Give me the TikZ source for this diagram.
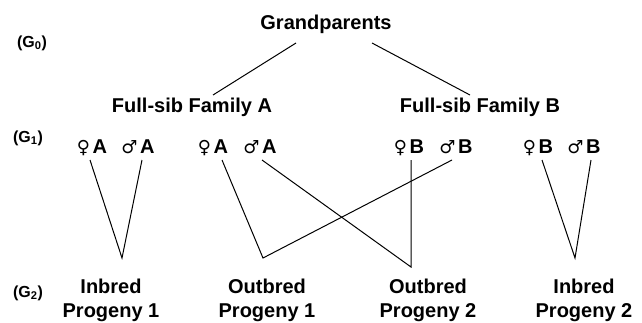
\documentclass[tikz,border=0pt]{standalone}
\usepackage{fontspec}
\setmainfont{Liberation Sans}
\newfontfamily\symfont{DejaVu Sans}
\newcommand{\fem}{{\symfont\fontsize{18}{20}\selectfont ♀}\hspace{2.5pt}}
\newcommand{\mal}{{\symfont\fontsize{18}{20}\selectfont ♂}\hspace{2.5pt}}
\begin{document}
\begin{tikzpicture}[x=1pt,y=-1pt,
  big/.style={font=\fontsize{20}{24}\selectfont\bfseries, inner sep=0pt, anchor=base},
  par/.style={font=\fontsize{20}{24}\selectfont\bfseries, inner sep=0pt, anchor=base},
  gen/.style={font=\fontsize{16}{18}\selectfont\bfseries, inner sep=0pt, anchor=base},
  prog/.style={font=\fontsize{20}{24}\selectfont\bfseries, inner sep=0pt, anchor=base, align=center},
  link/.style={line width=1pt, black}]
\useasboundingbox (0,0) rectangle (642,322);
% generation labels
\node[gen] (g0) at (32,47) {(G$_{\mathbf 0}$)};
\node[gen] (g1) at (28,142) {(G$_{\mathbf 1}$)};
\node[gen] (g2) at (28,297) {(G$_{\mathbf 2}$)};
% G0
\node[big] (gp) at (326,29) {Grandparents};
% families
\node[big] (fa) at (192,112) {Full-sib Family A};
\node[big] (fb) at (480,112) {Full-sib Family B};
% G1 parents
\node[par] (fA1) at (92,153) {\fem A};
\node[par] (mA1) at (138,153) {\mal A};
\node[par] (fA2) at (213,153) {\fem A};
\node[par] (mA2) at (260,153) {\mal A};
\node[par] (fB1) at (409,153) {\fem B};
\node[par] (mB1) at (456,153) {\mal B};
\node[par] (fB2) at (538,153) {\fem B};
\node[par] (mB2) at (584,153) {\mal B};
% G2 progeny
\node[prog] (i1) at (111,317) {Inbred\\Progeny 1};
\node[prog] (o1) at (267,317) {Outbred\\Progeny 1};
\node[prog] (o2) at (428,317) {Outbred\\Progeny 2};
\node[prog] (i2) at (584,317) {Inbred\\Progeny 2};
% connector end points
\coordinate (gpL) at (296,43);
\coordinate (gpR) at (372,43);
\coordinate (faT) at (213,95);
\coordinate (fbT) at (470,95);
\coordinate (tfA1) at (90,160);
\coordinate (tmA1) at (142,160);
\coordinate (tfA2) at (222,160);
\coordinate (tmA2) at (262,160);
\coordinate (tfB1) at (411,160);
\coordinate (tmB1) at (452,160);
\coordinate (tfB2) at (542,160);
\coordinate (tmB2) at (591,160);
\coordinate (vi1) at (122,258);
\coordinate (vo1) at (263,258);
\coordinate (vo2) at (411,267);
\coordinate (vi2) at (575,258);
% connectors
\draw[link] (gpL) -- (faT);
\draw[link] (gpR) -- (fbT);
\draw[link] (tfA1) -- (vi1) -- (tmA1);
\draw[link] (tfA2) -- (vo1) -- (tmB1);
\draw[link] (tmA2) -- (vo2) -- (tfB1);
\draw[link] (tfB2) -- (vi2) -- (tmB2);
\end{tikzpicture}
\end{document}
